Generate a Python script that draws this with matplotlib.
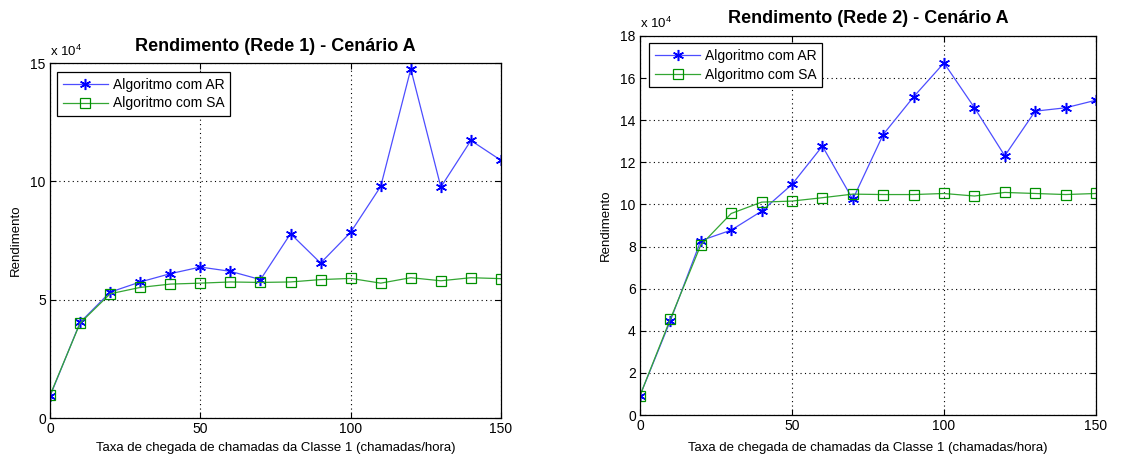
import numpy as np
import matplotlib
matplotlib.use('Agg')
import matplotlib.pyplot as plt

plt.rcParams['font.family'] = ['Liberation Sans', 'DejaVu Sans']
plt.rcParams['mathtext.fontset'] = 'custom'
plt.rcParams['mathtext.rm'] = 'Liberation Sans'
plt.rcParams['mathtext.default'] = 'regular'

# taxa de chegada (chamadas/hora)
taxa = [0, 10, 20, 30, 40, 50, 60, 70, 80, 90, 100, 110, 120, 130, 140, 150]

# rendimento em unidades de 1e4
rede1_ar = [0.92, 4.04, 5.32, 5.75, 6.10, 6.38, 6.20, 5.85, 7.79, 6.55, 7.85, 9.79, 14.75, 9.76, 11.73, 10.89]
rede1_sa = [0.96, 4.01, 5.25, 5.52, 5.66, 5.70, 5.75, 5.73, 5.75, 5.85, 5.90, 5.70, 5.93, 5.80, 5.93, 5.89]
rede2_ar = [0.92, 4.48, 8.28, 8.78, 9.68, 10.95, 12.77, 10.24, 13.32, 15.11, 16.72, 14.60, 12.31, 14.43, 14.59, 14.95]
rede2_sa = [0.92, 4.56, 8.07, 9.57, 10.11, 10.16, 10.32, 10.49, 10.47, 10.47, 10.52, 10.40, 10.57, 10.52, 10.47, 10.52]

titles = ['Rendimento (Rede 1) - Cenário A', 'Rendimento (Rede 2) - Cenário A']
xlabel = 'Taxa de chegada de chamadas da Classe 1 (chamadas/hora)'
ylabel = 'Rendimento'
legend_labels = ['Algoritmo com AR', 'Algoritmo com SA']
yticks1 = [0, 5, 10, 15]
yticks2 = [0, 2, 4, 6, 8, 10, 12, 14, 16, 18]
xticks = [0, 50, 100, 150]

fig = plt.figure(figsize=(11.42, 4.55), dpi=100)
ax1 = fig.add_axes([0.0438, 0.0813, 0.3949, 0.780])
ax2 = fig.add_axes([0.5604, 0.0879, 0.3993, 0.833])

panels = [
    (ax1, rede1_ar, rede1_sa, yticks1, (0.0155, 0.975), 4),
    (ax2, rede2_ar, rede2_sa, yticks2, (0.020, 0.981), 6),
]

asterisco = (6, 2, 0)  # parecido com o '*' do matlab

for i, (ax, ar, sa, yt, leg_pos, xpad) in enumerate(panels):
    ax.plot(taxa, ar, color=(0.3, 0.3, 1.0), lw=0.9, marker=asterisco, ms=8,
            mec='#0000ff', mew=1.1, label=legend_labels[0])
    ax.plot(taxa, sa, color=(0.2, 0.65, 0.2), lw=0.9, marker='s', ms=7,
            mec='#009000', mfc='none', mew=0.9, label=legend_labels[1])
    ax.set_xlim(0, 150)
    ax.set_ylim(yt[0], yt[-1])
    ax.set_xticks(xticks)
    ax.set_yticks(yt)
    ax.grid(True, linestyle=(0, (1, 3)), color='k', lw=0.8)
    ax.tick_params(direction='in', top=True, right=True, length=4, labelsize=10, pad=3)
    for sp in ax.spines.values():
        sp.set_linewidth(0.9)
    ax.set_title(titles[i], fontsize=13, fontweight='bold', pad=9)
    ax.set_xlabel(xlabel, fontsize=9.5, labelpad=xpad)
    ax.set_ylabel(ylabel, fontsize=9.5, labelpad=6)
    # multiplicador do eixo y, como no matlab
    ax.text(0.0, 1.012, r'x 10$^{4}$', transform=ax.transAxes, fontsize=9.5,
            ha='left', va='bottom')
    leg = ax.legend(loc='upper left', bbox_to_anchor=leg_pos, borderaxespad=0,
                    fancybox=False, framealpha=1, edgecolor='k', fontsize=10,
                    handlelength=3.3, borderpad=0.4, labelspacing=0.35,
                    handletextpad=0.3)
    leg.get_frame().set_linewidth(0.9)

fig.savefig('out.png', dpi=100)
